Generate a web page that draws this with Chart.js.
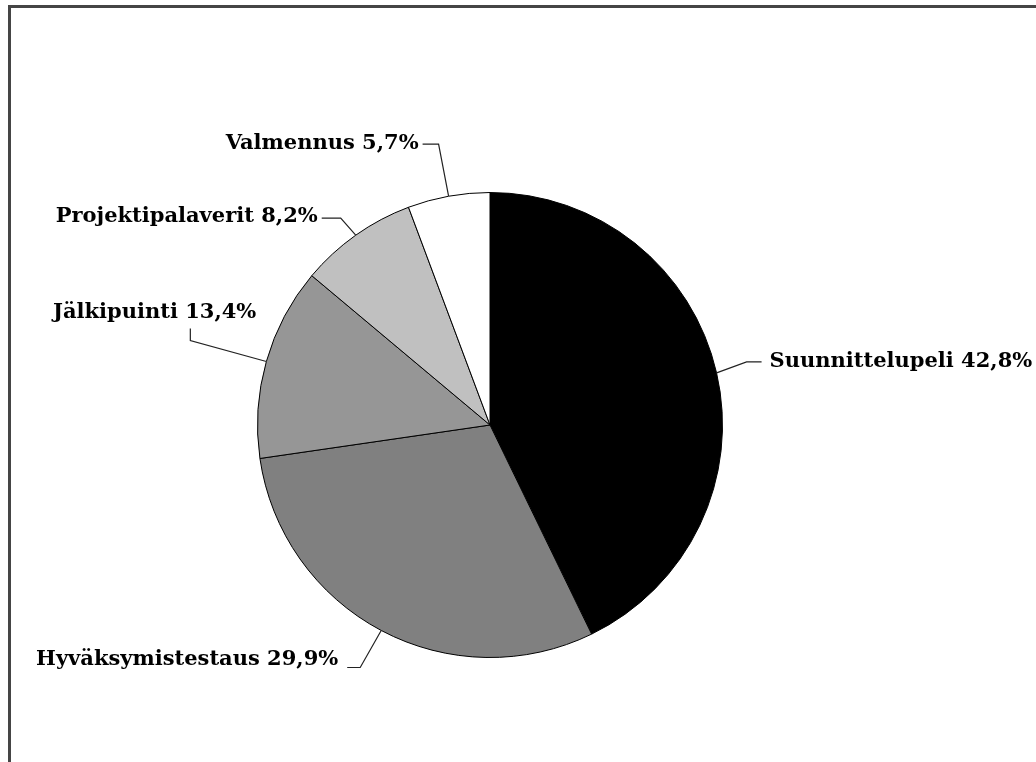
<!DOCTYPE html>
<html>
<head>
<meta charset="utf-8">
<script src="https://cdn.jsdelivr.net/npm/chart.js@4/dist/chart.umd.min.js"></script>
<style>
  html, body { margin: 0; padding: 0; background: #fff; }
  #wrap { position: relative; width: 1036px; height: 762px; overflow: hidden; }
  #frame { position: absolute; left: 8px; top: 5px; width: 1100px; height: 800px;
           border-top: 3px solid #454545; border-left: 3px solid #454545; }
  canvas { position: absolute; left: 0; top: 0; }
</style>
</head>
<body>
<div id="wrap">
  <div id="frame"></div>
  <canvas id="myChart" width="1036" height="762"></canvas>
</div>
<script>
// datat
const labels = ['Suunnittelupeli', 'Hyväksymistestaus', 'Jälkipuinti', 'Projektipalaverit', 'Valmennus'];
const values = [42.8, 29.9, 13.4, 8.2, 5.7];
const colors = ['#000000', '#808080', '#969696', '#c0c0c0', '#ffffff'];

// label placement relative to the slice edge point (elbow, stub end, text anchor)
const labelLayout = [
    { elbow: [30, -11], end: [45, -11], text: [53, -11], align: 'left' },
    { elbow: [-21, 37], end: [-34, 37], text: [-43, 29], align: 'right' },
    { elbow: [-76, -21], end: [-76, -33], text: [-10, -49], align: 'right' },
    { elbow: [-15, -17], end: [-34, -17], text: [-38, -19], align: 'right' },
    { elbow: [-10, -52], end: [-26, -52], text: [-30, -53], align: 'right' }
];

const fmt = v => v.toFixed(1).replace('.', ',') + '%';

// leader lines + labels
const pieLabels = {
    id: 'pieLabels',
    afterDatasetsDraw(chart) {
        const c = chart.ctx;
        const meta = chart.getDatasetMeta(0);
        meta.data.forEach((arc, i) => {
            const p = arc.getProps(['x', 'y', 'startAngle', 'endAngle', 'outerRadius'], true);
            const mid = (p.startAngle + p.endAngle) / 2;
            const ex = p.x + Math.cos(mid) * p.outerRadius;
            const ey = p.y + Math.sin(mid) * p.outerRadius;
            const L = labelLayout[i];
            c.save();
            c.strokeStyle = '#222';
            c.lineWidth = 1.2;
            c.beginPath();
            c.moveTo(ex, ey);
            c.lineTo(ex + L.elbow[0], ey + L.elbow[1]);
            c.lineTo(ex + L.end[0], ey + L.end[1]);
            c.stroke();
            c.fillStyle = '#000';
            c.font = 'bold 21px "DejaVu Serif", serif';
            c.textAlign = L.align;
            c.textBaseline = 'middle';
            c.fillText(labels[i] + ' ' + fmt(values[i]), ex + L.text[0], ey + L.text[1]);
            c.restore();
        });
    }
};

const ctx = document.getElementById('myChart').getContext('2d');
const myChart = new Chart(ctx, {
    type: 'pie',
    data: {
        labels: labels,
        datasets: [{
            data: values,
            backgroundColor: colors,
            borderColor: '#000',
            borderWidth: 1
        }]
    },
    options: {
        responsive: false,
        animation: false,
        layout: { padding: { top: 192, bottom: 104, left: 257, right: 313 } },
        plugins: {
            legend: { display: false },
            tooltip: { enabled: false }
        }
    },
    plugins: [pieLabels]
});
</script>
</body>
</html>
